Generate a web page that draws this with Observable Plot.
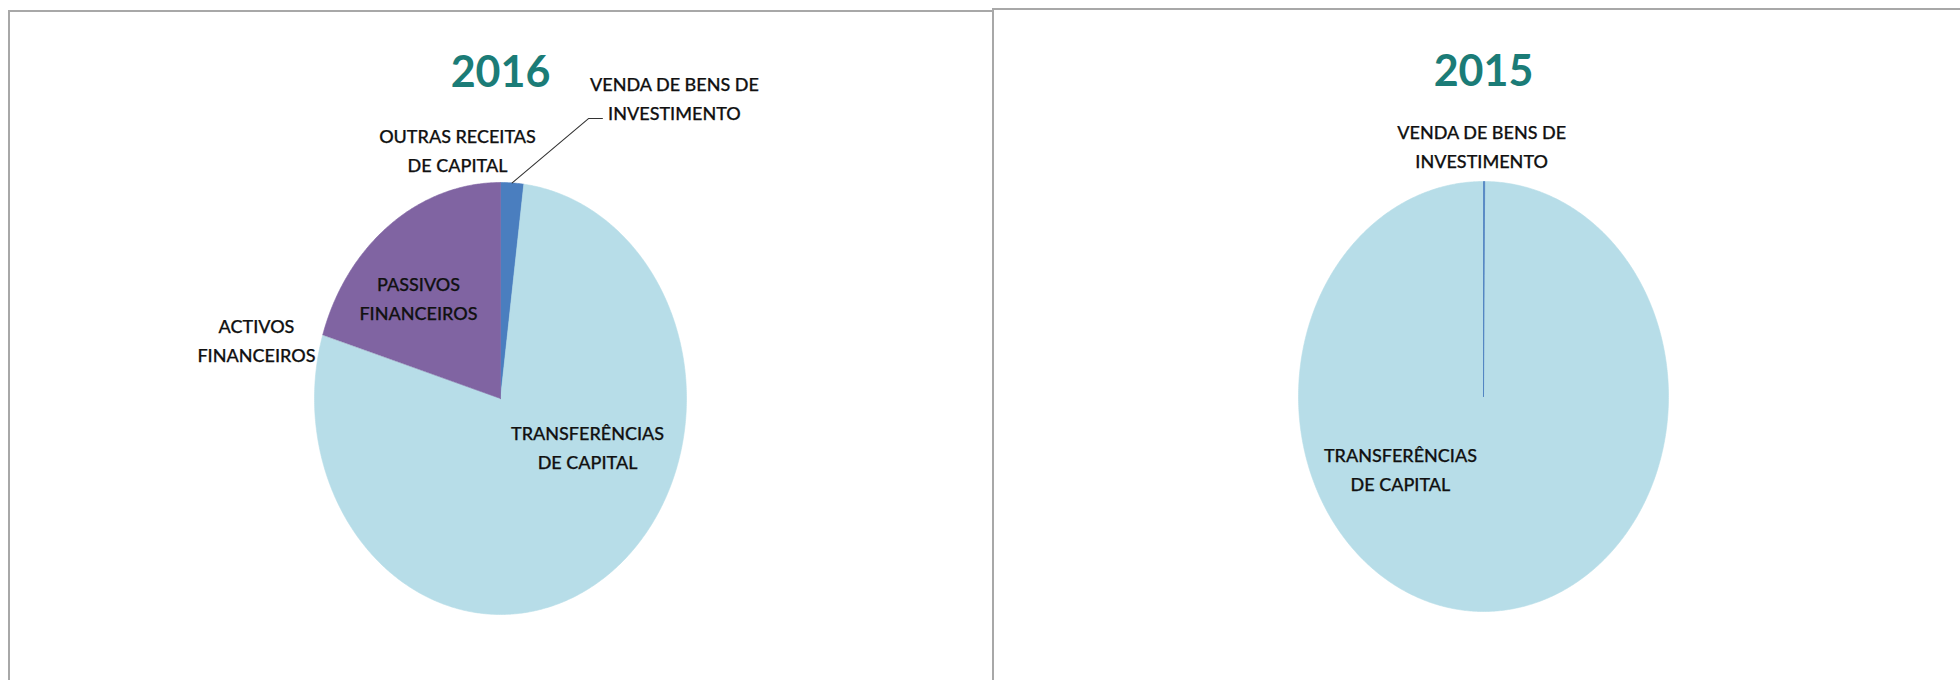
<!DOCTYPE html>
<html>
<head>
<meta charset="utf-8">
<script src="https://cdn.jsdelivr.net/npm/d3@7"></script>
<script src="https://cdn.jsdelivr.net/npm/@observablehq/plot@0.6"></script>
<style>
  html, body { margin: 0; padding: 0; background: #fff; width: 1960px; height: 680px; overflow: hidden; position: relative; font-family: Lato, sans-serif; }
  .panel { position: absolute; border-top: 2px solid #a8a8a8; border-left: 2px solid #a8a8a8; box-sizing: border-box; }
  .chart { position: absolute; top: 0; }
</style>
</head>
<body>
<div class="panel" style="left:8px;top:10px;width:985px;height:680px"></div>
<div class="panel" style="left:992px;top:8px;width:968px;height:680px"></div>
<div id="c2016" class="chart" style="left:0px"></div>
<div id="c2015" class="chart" style="left:993px"></div>
<script>
// ---------- DATA ----------
const years = ["2016", "2015"];
const categories2016 = ["VENDA DE BENS DE INVESTIMENTO", "TRANSFERÊNCIAS DE CAPITAL", "ACTIVOS FINANCEIROS", "PASSIVOS FINANCEIROS", "OUTRAS RECEITAS DE CAPITAL"];
const values2016 = [2.0, 77.7, 0.05, 20.25, 0];       // % share
const categories2015 = ["VENDA DE BENS DE INVESTIMENTO", "TRANSFERÊNCIAS DE CAPITAL"];
const values2015 = [0.1, 99.9];                        // % share
const labelText = {
  "VENDA DE BENS DE INVESTIMENTO": "VENDA DE BENS DE\nINVESTIMENTO",
  "TRANSFERÊNCIAS DE CAPITAL": "TRANSFERÊNCIAS\nDE CAPITAL",
  "ACTIVOS FINANCEIROS": "ACTIVOS\nFINANCEIROS",
  "PASSIVOS FINANCEIROS": "PASSIVOS\nFINANCEIROS",
  "OUTRAS RECEITAS DE CAPITAL": "OUTRAS RECEITAS\nDE CAPITAL"
};

// ---------- STYLE / LAYOUT ----------
const sliceColors = {
  "VENDA DE BENS DE INVESTIMENTO": "#4a7ebf",
  "TRANSFERÊNCIAS DE CAPITAL": "#b7dde8",
  "ACTIVOS FINANCEIROS": "#a9c6d4",
  "PASSIVOS FINANCEIROS": "#8064a2",
  "OUTRAS RECEITAS DE CAPITAL": "#f79646"
};
const titleColor = "#1b7c77";
// label anchors in pie-radius units (Excel data-label placement)
const anchors2016 = {
  "VENDA DE BENS DE INVESTIMENTO": [0.935, 1.40],
  "OUTRAS RECEITAS DE CAPITAL": [-0.231, 1.16],
  "PASSIVOS FINANCEIROS": [-0.441, 0.475],
  "ACTIVOS FINANCEIROS": [-1.312, 0.278],
  "TRANSFERÊNCIAS DE CAPITAL": [0.468, -0.218]
};
const anchors2015 = {
  "VENDA DE BENS DE INVESTIMENTO": [-0.01, 1.172],
  "TRANSFERÊNCIAS DE CAPITAL": [-0.449, -0.33]
};
const leaders2016 = { "VENDA DE BENS DE INVESTIMENTO": [[0.473, 1.296], [0.548, 1.296]] };

function drawPie(el, {year, categories, values, width, cx, cy, rx, ry, anchors, leaders, titleY, thinStroke}) {
  const data = categories.map((c, i) => ({category: c, value: values[i]}));
  const arcs = d3.pie().sort(null).value(d => d.value).startAngle(0).endAngle(2 * Math.PI)(data);
  const wide = [], thin = [];
  for (const a of arcs) {
    const span = a.endAngle - a.startAngle;
    if (span <= 0) continue;
    const n = Math.max(2, Math.ceil(span / (Math.PI / 360)));
    const pts = [{x: 0, y: 0}];
    for (let i = 0; i <= n; i++) {
      const t = a.startAngle + span * i / n;
      pts.push({x: Math.sin(t), y: Math.cos(t)});
    }
    pts.push({x: 0, y: 0});
    const col = sliceColors[a.data.category];
    if (span < 0.02) thin.push(Plot.line(pts, {x: "x", y: "y", fill: col, stroke: col, strokeWidth: thinStroke, strokeOpacity: 0.8, curve: "linear-closed"}));
    else wide.push(Plot.line(pts, {x: "x", y: "y", fill: col, stroke: col, strokeWidth: 0.6, curve: "linear-closed"}));
  }
  const marks = [...wide, ...thin];
  // leader lines
  for (const a of arcs) {
    const lp = leaders && leaders[a.data.category];
    if (!lp) continue;
    const mid = (a.startAngle + a.endAngle) / 2;
    const pts = [{x: Math.sin(mid), y: Math.cos(mid)}, ...lp.map(([x, y]) => ({x, y}))];
    marks.push(Plot.line(pts, {x: "x", y: "y", stroke: "#333", strokeWidth: 1.1}));
  }
  // data labels
  const lbl = arcs.filter(a => anchors[a.data.category]).map(a => ({
    x: anchors[a.data.category][0], y: anchors[a.data.category][1], text: labelText[a.data.category]
  }));
  marks.push(Plot.text(lbl, {x: "x", y: "y", text: "text", fontSize: 18, fontFamily: "Lato", fontWeight: 500, lineHeight: 1.62, fill: "#111", stroke: "#111", strokeWidth: 0.25}));
  // title
  marks.push(Plot.text([{x: 0, y: titleY, t: year}], {x: "x", y: "y", text: "t", fontSize: 43, fontWeight: "bold", fontFamily: "Lato", fill: titleColor}));
  const chart = Plot.plot({
    width, height: 680, margin: 0,
    style: {background: "transparent"},
    x: {domain: [-1, 1], range: [cx - rx, cx + rx], axis: null},
    y: {domain: [-1, 1], range: [cy + ry, cy - ry], axis: null},
    marks
  });
  el.appendChild(chart);
}

drawPie(document.getElementById("c2016"), {
  year: years[0], categories: categories2016, values: values2016,
  width: 993, cx: 500, cy: 398, rx: 186, ry: 216,
  anchors: anchors2016, leaders: leaders2016, titleY: 1.505, thinStroke: 0
});
drawPie(document.getElementById("c2015"), {
  year: years[1], categories: categories2015, values: values2015,
  width: 967, cx: 490, cy: 396, rx: 185, ry: 215,
  anchors: anchors2015, leaders: null, titleY: 1.51, thinStroke: 0.9
});
</script>
</body>
</html>
